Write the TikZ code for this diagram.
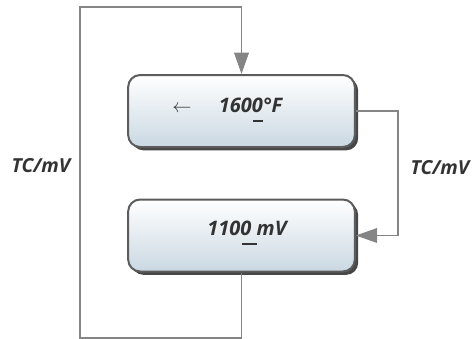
\documentclass[tikz,border=0pt]{standalone}
\usepackage{fontspec}
\setmainfont{Open Sans}
\usepackage{amsmath}
\usepackage{xcolor}
\usetikzlibrary{arrows.meta,shadows}
\definecolor{linegray}{HTML}{858585}
\definecolor{boxedge}{HTML}{5C5C5C}
\definecolor{boxlow}{HTML}{CAD8E2}
\definecolor{txt}{HTML}{333333}
\tikzset{
  valbox/.style={draw=boxedge, line width=1.5pt, rounded corners=9pt,
    minimum width=170pt, minimum height=54pt, top color=white, bottom color=boxlow,
    drop shadow={shadow xshift=2.5pt, shadow yshift=-2.5pt, fill=black!80, opacity=.9}},
  conn/.style={draw=linegray, line width=1.2pt},
  tip/.style={-{Triangle[length=16pt,width=11pt]}},
  lbl/.style={text=txt, font=\fontsize{14.5}{16}\selectfont\bfseries\itshape},
  val/.style={text=txt, font=\fontsize{15}{17}\selectfont\bfseries\itshape},
  cursor/.style={draw=txt, line width=1pt}
}
\begin{document}
\begin{tikzpicture}[x=0.75pt, y=-0.75pt]
    \useasboundingbox (0,0) rectangle (472,339);
    % boxes
    \node[valbox] (tempbox) at (241.5,111) {};
    \node[valbox] (mvbox) at (241.5,235.5) {};
    % contents
    \node[text=txt, font=\fontsize{15}{17}\selectfont] (leftarr) at (182,109) {$\leftarrow$};
    \node[val] (tempval) at (250.5,105) {1600°F};
    \draw[cursor] (253,121) -- (263,121);
    \node[val] (mvval) at (247,228) {1100 mV};
    \draw[cursor] (242,244) -- (257,244);
    % outer loop
    \coordinate (botleft) at (80,338);
    \coordinate (topleft) at (80,7);
    \draw[conn, tip] (mvbox.south) |- (botleft) -- (topleft) -| (tempbox.north);
    % right link
    \coordinate (rjoint) at (398,111);
    \draw[conn, tip] (tempbox.east) -- (rjoint) |- (mvbox.east);
    % labels
    \node[lbl] (leftlbl) at (41,166) {TC/mV};
    \node[lbl] (rightlbl) at (440,168) {TC/mV};
\end{tikzpicture}
\end{document}
